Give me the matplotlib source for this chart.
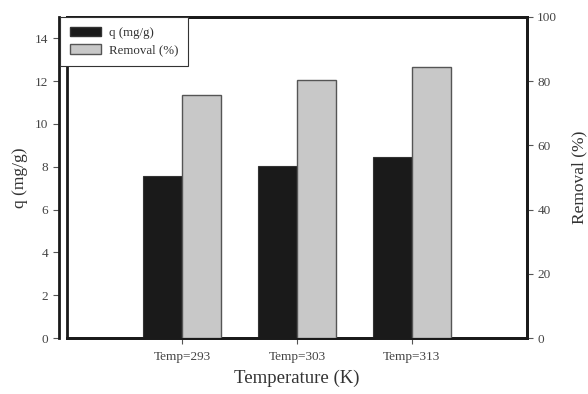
import numpy as np
import matplotlib as mpl
mpl.use('Agg')
import matplotlib.pyplot as plt
from matplotlib.patches import Patch

plt.rcParams['font.family'] = ['Liberation Serif', 'DejaVu Serif']

temps = ['Temp=293', 'Temp=303', 'Temp=313']
q_vals = [7.58, 8.04, 8.46]
removal_vals = [75.8, 80.3, 84.5]

x = np.arange(len(temps))
w = 0.34

fig = plt.figure(figsize=(5.88, 3.94), dpi=100)
ax = fig.add_axes([0.114, 0.142, 0.782, 0.815])
ax2 = ax.twinx()

ax.bar(x - w / 2, q_vals, width=w, color='#1a1a1a', edgecolor='#333333', linewidth=0.8, zorder=3)
ax2.bar(x + w / 2, removal_vals, width=w, color='#c8c8c8', edgecolor='#555555', linewidth=1.0, zorder=3)

ax.set_xlim(-1, 3)
ax.set_ylim(0, 15)
ax2.set_ylim(0, 100)
ax.set_yticks(range(0, 15, 2))
ax2.set_yticks(range(0, 101, 20))
ax.set_xticks(x)
ax.set_xticklabels(temps)

for a in (ax, ax2):
    for s in a.spines.values():
        s.set_linewidth(2.0)
        s.set_color('#1a1a1a')
    a.tick_params(axis='both', direction='out', length=4, width=0.8, color='#555555',
                  labelsize=9.5, labelcolor='#444444')
ax.spines['left'].set_position(('outward', 6))
ax.tick_params(axis='x', pad=5)

ax.set_ylabel('q (mg/g)', fontsize=12.5, color='#333333', labelpad=5)
ax2.set_ylabel('Removal (%)', fontsize=12.5, color='#333333', labelpad=10)
ax.set_xlabel('Temperature (K)', fontsize=13.5, color='#333333', labelpad=5)

handles = [Patch(facecolor='#1a1a1a', edgecolor='#333333'),
           Patch(facecolor='#c8c8c8', edgecolor='#555555')]
leg = ax2.legend(handles, ['q (mg/g)', 'Removal (%)'], loc='upper left',
                 bbox_to_anchor=(-0.015, 1.0), fontsize=9.3, fancybox=False,
                 framealpha=1, edgecolor='#333333', borderaxespad=0,
                 borderpad=0.75, handlelength=2.4, handleheight=0.7,
                 handletextpad=0.6, labelspacing=0.45)
leg.get_frame().set_linewidth(0.8)
for t in leg.get_texts():
    t.set_color('#333333')

plt.savefig('out.png', dpi=100)
